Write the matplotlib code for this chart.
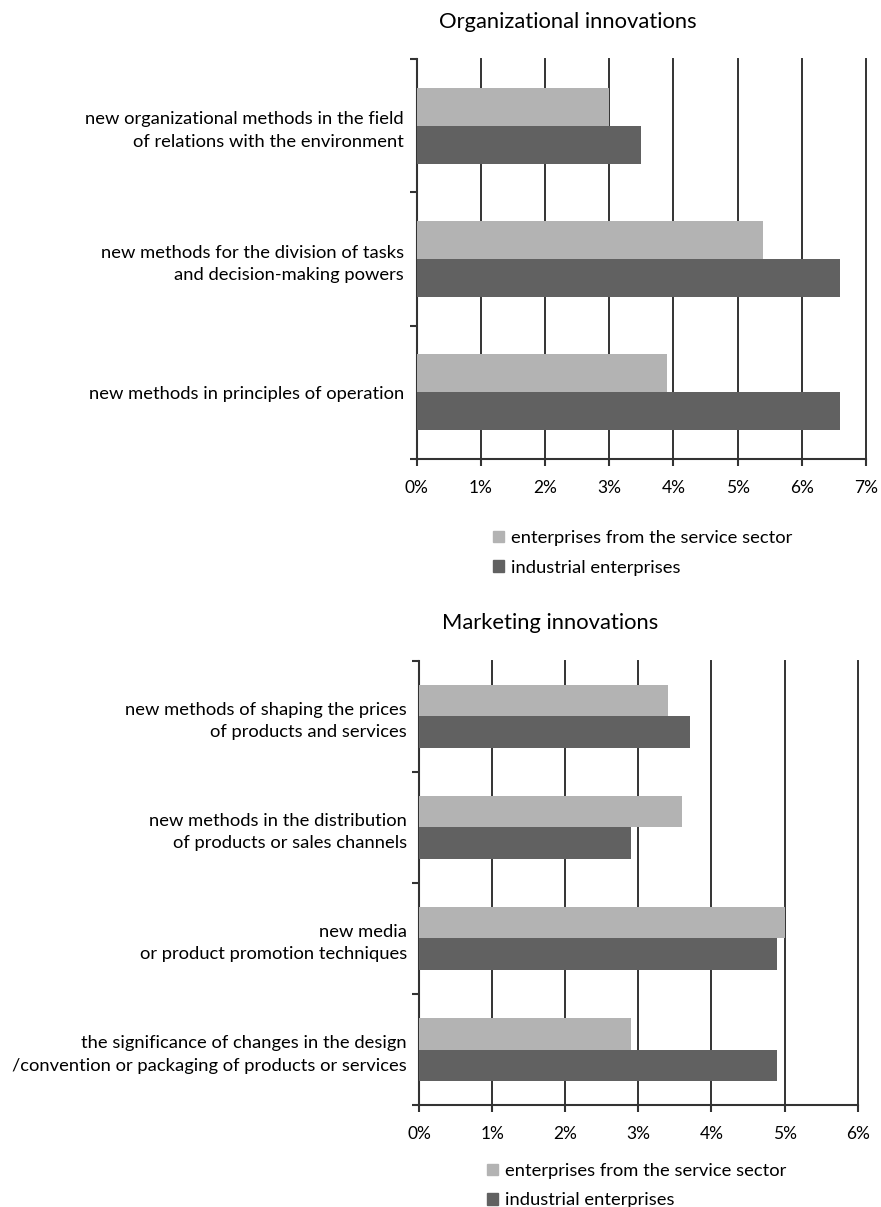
import numpy as np
import matplotlib.pyplot as plt
from matplotlib.patches import Patch

plt.rcParams['font.family'] = ['Lato', 'DejaVu Sans']

# Organizational innovations
org_labels = ["new organizational methods in the field\nof relations with the environment",
              "new methods for the division of tasks\nand decision-making powers",
              "new methods in principles of operation"]
org_service = [3.0, 5.4, 3.9]
org_industrial = [3.5, 6.6, 6.6]

# Marketing innovations
mkt_labels = ["new methods of shaping the prices\nof products and services",
              "new methods in the distribution\nof products or sales channels",
              "new media\nor product promotion techniques",
              "the significance of changes in the design\n/convention or packaging of products or services"]
mkt_service = [3.4, 3.6, 5.0, 2.9]
mkt_industrial = [3.7, 2.9, 4.9, 4.9]

series_names = ["enterprises from the service sector", "industrial enterprises"]
c_service = '#b3b3b3'
c_ind = '#616161'
c_line = '#333333'

fig = plt.figure(figsize=(8.81, 12.07), dpi=100)


def draw(ax, labels, serv, ind, xmax):
    n = len(labels)
    pos = np.arange(n)
    h = 0.285
    ax.barh(pos - h / 2, serv, height=h, color=c_service, zorder=3)
    ax.barh(pos + h / 2, ind, height=h, color=c_ind, zorder=3)
    ax.set_xlim(0, xmax)
    ax.set_ylim(n - 0.5, -0.5)
    ax.set_xticks(range(xmax + 1))
    ax.set_xticklabels([f"{i}%" for i in range(xmax + 1)], fontsize=12.5)
    ax.set_yticks(pos)
    ax.set_yticklabels(labels, fontsize=13.2, linespacing=1.5)
    ax.set_yticks(np.arange(n + 1) - 0.5, minor=True)
    ax.tick_params(axis='y', which='major', length=0, pad=9)
    ax.tick_params(axis='y', which='minor', length=5, width=1.5, color=c_line, direction='out')
    ax.tick_params(axis='x', length=5, width=1.5, color=c_line, pad=10)
    ax.grid(axis='x', color=c_line, linewidth=1.4, zorder=0)
    for gl in ax.get_xgridlines():
        gl.set_clip_on(False)
    ax.set_axisbelow(True)
    for s in ['top', 'right']:
        ax.spines[s].set_visible(False)
    for s in ['left', 'bottom']:
        ax.spines[s].set_color(c_line)
        ax.spines[s].set_linewidth(1.5)


ax1 = fig.add_axes([0.4728, 0.6197, 0.5102, 0.3314])
draw(ax1, org_labels, org_service, org_industrial, 7)
ax2 = fig.add_axes([0.476, 0.0845, 0.4974, 0.3679])
draw(ax2, mkt_labels, mkt_service, mkt_industrial, 6)

fig.text(568 / 881, 1 - 22 / 1207, "Organizational innovations", fontsize=15.8, ha='center', va='center')
fig.text(550 / 881, 1 - 623 / 1207, "Marketing innovations", fontsize=15.8, ha='center', va='center')

handles = [Patch(color=c_service), Patch(color=c_ind)]
for x, y, sp in [(493 / 881, 1 - 530 / 1207, 0.75), (487 / 881, 1 - 1163 / 1207, 0.72)]:
    fig.legend(handles, series_names, loc='upper left', bbox_to_anchor=(x, y),
               frameon=False, fontsize=13.2, handlelength=0.6, handleheight=0.6,
               handletextpad=0.4, labelspacing=sp, borderpad=0, borderaxespad=0)

fig.savefig('out.png', dpi=100)
